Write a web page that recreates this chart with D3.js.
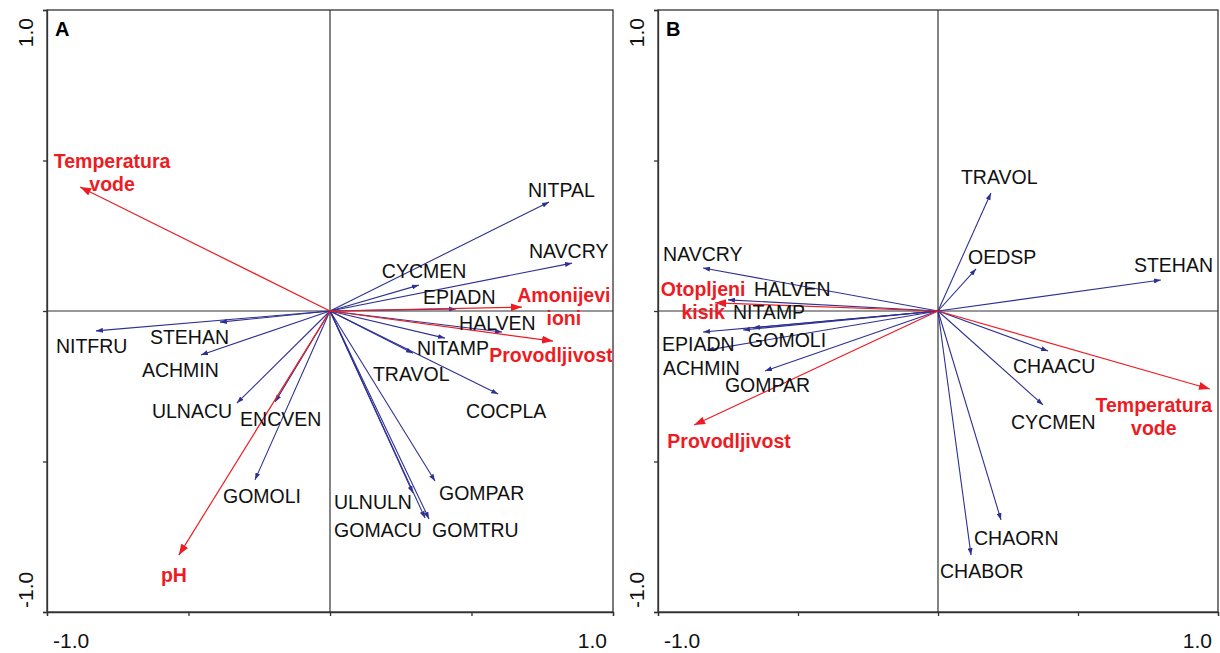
<!DOCTYPE html>
<html>
<head>
<meta charset="utf-8">
<script src="https://cdn.jsdelivr.net/npm/d3@7"></script>
<style>
  html, body { margin: 0; padding: 0; background: #fff; }
  svg { display: block; font-family: "Liberation Sans", Arial, Helvetica, sans-serif; }
</style>
</head>
<body>
<svg id="chart" width="1220" height="653"></svg>
<script>
// ---------- Data: panel A (species and environmental vectors) ----------
const speciesA  = ["NITPAL", "NAVCRY", "CYCMEN", "EPIADN", "HALVEN", "NITAMP", "TRAVOL", "COCPLA",
                   "GOMPAR", "GOMTRU", "GOMACU", "ULNULN", "NITFRU", "STEHAN", "ACHMIN", "ULNACU",
                   "ENCVEN", "GOMOLI"];
const speciesAx = [0.774, 0.855, 0.314, 0.445, 0.608, 0.406, 0.293, 0.594,
                   0.371, 0.350, 0.336, 0.293, -0.827, -0.389, -0.456, -0.329,
                   -0.194, -0.265];
const speciesAy = [0.362, 0.159, 0.086, 0.007, -0.070, -0.090, -0.140, -0.276,
                   -0.565, -0.691, -0.688, -0.605, -0.066, -0.037, -0.146, -0.306,
                   -0.302, -0.561];
const envA  = ["Temperatura\nvode", "pH", "Amonijevi\nioni", "Provodljivost"];
const envAx = [-0.883, -0.534, 0.678, 0.788];
const envAy = [0.412, -0.811, 0.013, -0.100];

// ---------- Data: panel B ----------
const speciesB  = ["TRAVOL", "OEDSP", "STEHAN", "CHAACU", "CYCMEN", "CHAORN", "CHABOR",
                   "NAVCRY", "HALVEN", "NITAMP", "GOMOLI", "EPIADN", "ACHMIN", "GOMPAR"];
const speciesBx = [0.189, 0.136, 0.796, 0.393, 0.375, 0.225, 0.118,
                   -0.839, -0.750, -0.661, -0.696, -0.839, -0.825, -0.618];
const speciesBy = [0.392, 0.140, 0.103, -0.133, -0.312, -0.694, -0.811,
                   0.143, 0.037, -0.056, -0.063, -0.070, -0.130, -0.199];
const envB  = ["Temperatura\nvode", "Otopljeni\nkisik", "Provodljivost"];
const envBx = [0.971, -0.796, -0.871];
const envBy = [-0.259, 0.027, -0.379];

// ---------- Axis ticks ----------
const tickValues = [-1, -0.5, 0, 0.5, 1];
const tickLabelMin = "-1.0";
const tickLabelMax = "1.0";
const panelNames = ["A", "B"];

// ---------- Layout: label offsets (px) from each arrow tip ----------
const labelOffsetA = [[-21,-5],[-43,-5],[-37,-7],[-33,-5],[-43,-2],[-28,17],[-40,28],[-32,24],
                      [4,19],[3,18],[-91,19],[-79,16],[-40,22],[-70,22],[-59,22],[-85,15],
                      [-35,24],[-32,23]];
const envOffsetA   = [[32,-19],[-5,27],[42,-5],[-2,21]];
const labelOffsetB = [[-30,-9],[-8,-5],[-27,-8],[-35,22],[-32,24],[-27,25],[-31,23],
                      [-40,-7],[26,-4],[-20,-9],[5,17],[-41,19],[-44,25],[-40,21]];
const envOffsetB   = [[-56,23],[-12,-7],[35,23]];

const BLUE = "#2e3192";
const RED = "#ed1c24";
const FRAME = "#333";

const svg = d3.select("#chart");

const defs = svg.append("defs");
function marker(id, color, len, wid) {
  defs.append("marker")
    .attr("id", id)
    .attr("viewBox", "0 -5 10 10")
    .attr("refX", 10).attr("refY", 0)
    .attr("markerUnits", "userSpaceOnUse")
    .attr("markerWidth", len).attr("markerHeight", wid)
    .attr("preserveAspectRatio", "none")
    .attr("orient", "auto")
    .append("path").attr("d", "M0,-5L10,0L0,5Z").attr("fill", color);
}
marker("headBlue", BLUE, 7, 5);
marker("headRed", RED, 11, 8);

const panels = [
  { name: panelNames[0], left: 47, right: 613,
    sp: speciesA, sx: speciesAx, sy: speciesAy, so: labelOffsetA,
    env: envA, ex: envAx, ey: envAy, eo: envOffsetA },
  { name: panelNames[1], left: 658, right: 1218,
    sp: speciesB, sx: speciesBx, sy: speciesBy, so: labelOffsetB,
    env: envB, ex: envBx, ey: envBy, eo: envOffsetB }
];
const plotTop = 10, plotBottom = 612;

panels.forEach(p => {
  const x = d3.scaleLinear().domain([-1, 1]).range([p.left, p.right]);
  const y = d3.scaleLinear().domain([-1, 1]).range([plotBottom, plotTop]);
  const g = svg.append("g");

  // frame
  g.append("rect")
    .attr("x", x(-1)).attr("y", y(1))
    .attr("width", x(1) - x(-1)).attr("height", y(-1) - y(1))
    .attr("fill", "none").attr("stroke", FRAME).attr("stroke-width", 1.3);

  // axes with outward ticks
  const ax = g.append("g").attr("transform", `translate(0,${y(-1)})`)
    .call(d3.axisBottom(x).tickValues(tickValues).tickSize(4).tickSizeOuter(4).tickFormat(""));
  const ay = g.append("g").attr("transform", `translate(${x(-1)},0)`)
    .call(d3.axisLeft(y).tickValues(tickValues).tickSize(4).tickSizeOuter(4).tickFormat(""));
  [ax, ay].forEach(a => {
    a.selectAll("path,line").attr("stroke", FRAME).attr("stroke-width", 1.3);
  });

  // zero lines
  g.append("line").attr("x1", x(0)).attr("x2", x(0)).attr("y1", y(1)).attr("y2", y(-1))
    .attr("stroke", FRAME).attr("stroke-width", 1.2);
  g.append("line").attr("x1", x(-1)).attr("x2", x(1)).attr("y1", y(0)).attr("y2", y(0))
    .attr("stroke", FRAME).attr("stroke-width", 1.2);

  // tick labels
  const tl = g.append("g").attr("font-size", 21).attr("fill", "#111");
  tl.append("text").attr("x", x(-1) + 6).attr("y", 648).attr("text-anchor", "start").text(tickLabelMin);
  tl.append("text").attr("x", x(1) - 6).attr("y", 648).attr("text-anchor", "end").text(tickLabelMax);
  tl.append("text").attr("transform", `translate(${x(-1) - 14},${y(1) + 8}) rotate(-90)`)
    .attr("text-anchor", "end").text(tickLabelMax);
  tl.append("text").attr("transform", `translate(${x(-1) - 14},${y(-1) - 4}) rotate(-90)`)
    .attr("text-anchor", "start").text(tickLabelMin);

  // panel letter
  g.append("text").attr("x", x(-1) + 8).attr("y", y(1) + 26)
    .attr("font-size", 20).attr("font-weight", "bold").attr("fill", "#000").text(p.name);

  // species arrows
  const spIdx = d3.range(p.sp.length);
  g.append("g").selectAll("line").data(spIdx).join("line")
    .attr("x1", x(0)).attr("y1", y(0))
    .attr("x2", i => x(p.sx[i])).attr("y2", i => y(p.sy[i]))
    .attr("stroke", BLUE).attr("stroke-width", 1.1)
    .attr("marker-end", "url(#headBlue)");

  // environmental arrows
  const envIdx = d3.range(p.env.length);
  g.append("g").selectAll("line").data(envIdx).join("line")
    .attr("x1", x(0)).attr("y1", y(0))
    .attr("x2", i => x(p.ex[i])).attr("y2", i => y(p.ey[i]))
    .attr("stroke", RED).attr("stroke-width", 1.2)
    .attr("marker-end", "url(#headRed)");

  // species labels
  g.append("g").attr("font-size", 19.5).attr("fill", "#111")
    .selectAll("text").data(spIdx).join("text")
    .attr("x", i => x(p.sx[i]) + p.so[i][0])
    .attr("y", i => y(p.sy[i]) + p.so[i][1])
    .text(i => p.sp[i]);

  // environmental labels (centred, possibly two lines)
  const el = g.append("g").attr("font-size", 19.5).attr("font-weight", "bold")
    .attr("fill", RED).attr("text-anchor", "middle");
  envIdx.forEach(i => {
    const cx = x(p.ex[i]) + p.eo[i][0];
    const cy = y(p.ey[i]) + p.eo[i][1];
    const t = el.append("text").attr("x", cx).attr("y", cy);
    p.env[i].split("\n").forEach((line, k) => {
      t.append("tspan").attr("x", cx).attr("dy", k === 0 ? 0 : 23).text(line);
    });
  });
});
</script>
</body>
</html>
